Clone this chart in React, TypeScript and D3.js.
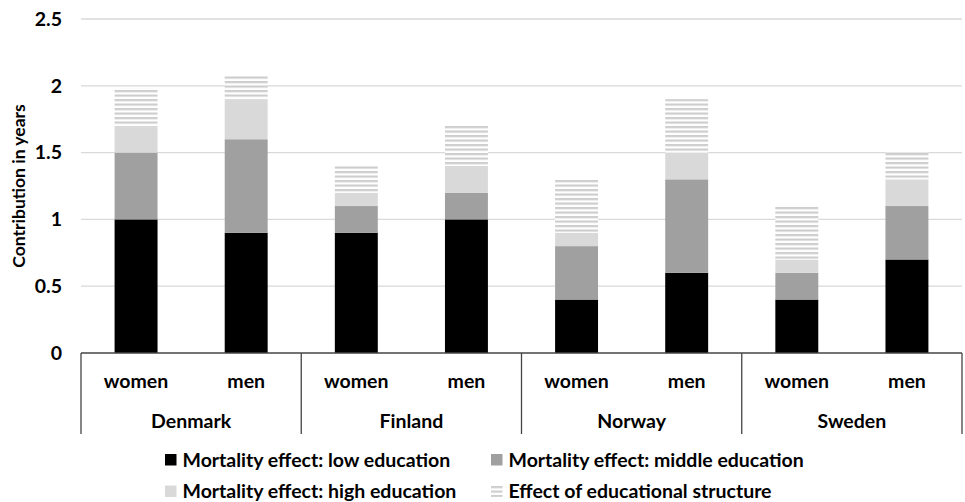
import React from "react";
import * as d3 from "d3";

const countries = ["Denmark", "Finland", "Norway", "Sweden"];
const sexes = ["women", "men"];
const lowEdu = [1.0, 0.9, 0.9, 1.0, 0.4, 0.6, 0.4, 0.7];
const midEdu = [0.5, 0.7, 0.2, 0.2, 0.4, 0.7, 0.2, 0.4];
const highEdu = [0.2, 0.3, 0.1, 0.2, 0.1, 0.2, 0.1, 0.2];
const structure = [0.28, 0.18, 0.2, 0.3, 0.4, 0.4, 0.4, 0.2];
const yTicks = [0, 0.5, 1, 1.5, 2, 2.5];
const seriesNames = [
  "Mortality effect: low education",
  "Mortality effect: middle education",
  "Mortality effect: high education",
  "Effect of educational structure",
];
const fills = ["#000000", "#a0a0a0", "#d9d9d9", "url(#stripes)"];

const W = 965, H = 502;
const left = 81, right = 962, top = 19, bottom = 353;
const font = "Lato, 'Open Sans', sans-serif";
const fs = 19.5;

export default function App() {
  const cats = countries.flatMap((c) => sexes.map((s) => `${c}-${s}`));
  const x = d3.scaleBand().domain(cats).range([left, right]).paddingInner(0.61).paddingOuter(0.305);
  const y = d3.scaleLinear().domain([0, 2.5]).range([bottom, top]);
  const data = cats.map((c, i) => ({ cat: c, s0: lowEdu[i], s1: midEdu[i], s2: highEdu[i], s3: structure[i] }));
  const stack = d3.stack<any>().keys(["s0", "s1", "s2", "s3"])(data);
  const groupW = (right - left) / countries.length;

  return (
    <svg width={W} height={H} style={{ position: "absolute", left: 0, top: 0, background: "#fff" }}>
      <defs>
        <pattern id="stripes" width={8} height={4.5} patternUnits="userSpaceOnUse">
          <rect x={0} y={0} width={8} height={4.5} fill="#ffffff" />
          <rect x={0} y={0} width={8} height={2.2} fill="#cdcdcd" />
        </pattern>
      </defs>
      {yTicks.filter((t) => t > 0).map((t) => (
        <line key={t} x1={left} x2={right} y1={y(t)} y2={y(t)} stroke="#d9d9d9" strokeWidth={1.3} />
      ))}
      {yTicks.map((t) => (
        <text key={t} x={62} y={y(t)} dy="0.35em" textAnchor="end" fontFamily={font} fontWeight="bold" fontSize={fs}>
          {t}
        </text>
      ))}
      <text transform={`translate(19,${(95 + 277) / 2}) rotate(-90)`} textAnchor="middle" dy="0.35em" fontFamily={font} fontWeight="bold" fontSize={17.5}>
        Contribution in years
      </text>
      {stack.map((layer, li) =>
        layer.map((d, i) => (
          <rect key={`${li}-${i}`} x={x(cats[i])} width={x.bandwidth()} y={y(d[1])} height={y(d[0]) - y(d[1])} fill={fills[li]} />
        ))
      )}
      <line x1={left} x2={right} y1={bottom} y2={bottom} stroke="#444" strokeWidth={1.3} />
      {d3.range(countries.length + 1).map((i) => (
        <line key={i} x1={left + i * groupW} x2={left + i * groupW} y1={bottom} y2={434} stroke="#444" strokeWidth={1.3} />
      ))}
      {cats.map((c, i) => (
        <text key={c} x={(x(c) as number) + x.bandwidth() / 2} y={381} dy="0.35em" textAnchor="middle" fontFamily={font} fontWeight="bold" fontSize={fs}>
          {sexes[i % 2]}
        </text>
      ))}
      {countries.map((c, i) => (
        <text key={c} x={left + (i + 0.5) * groupW} y={421} dy="0.35em" textAnchor="middle" fontFamily={font} fontWeight="bold" fontSize={fs}>
          {c}
        </text>
      ))}
      {seriesNames.map((n, i) => {
        const lx = i % 2 === 0 ? 165 : 491;
        const ly = i < 2 ? 460 : 491.5;
        return (
          <g key={n}>
            <rect x={lx} y={ly - 6} width={11.5} height={11.5} fill={fills[i]} />
            <text x={lx + 17.5} y={ly} dy="0.35em" fontFamily={font} fontWeight="bold" fontSize={fs}>
              {n}
            </text>
          </g>
        );
      })}
    </svg>
  );
}
